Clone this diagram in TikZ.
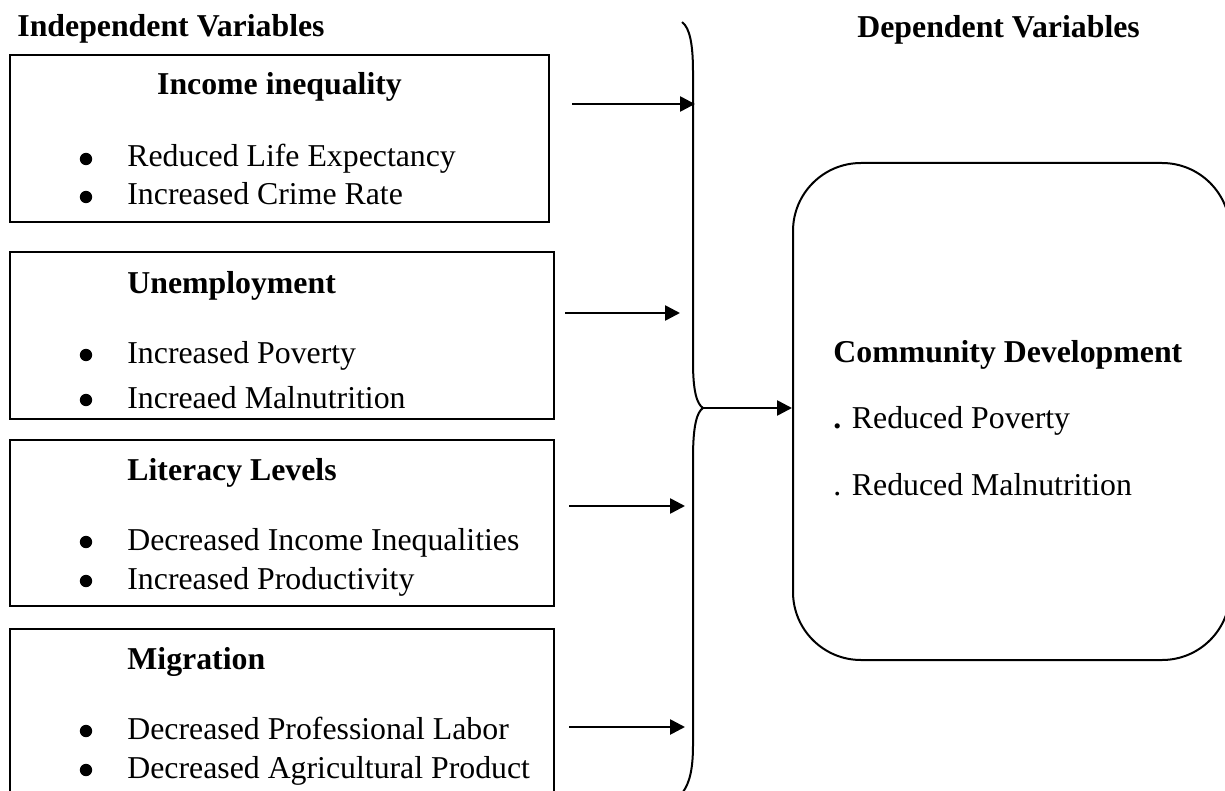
\documentclass[tikz,border=0pt]{standalone}
\usepackage{fontspec}
\setmainfont{Liberation Serif}
\usepackage{tikz}
\usetikzlibrary{arrows.meta}
\tikzset{>={Triangle[length=7.5pt,width=7.5pt]}}
\tikzstyle{varbox}=[draw,line width=1.1pt,minimum width=272pt,minimum height=83.5pt,inner sep=0]
\tikzstyle{flow}=[->,line width=1.3pt]
\tikzstyle{txt}=[inner sep=0,anchor=base west]
\tikzstyle{bul}=[circle,fill,inner sep=0,minimum size=6.2pt]

\begin{document}
\begin{tikzpicture}[x=0.5pt,y=-0.5pt]
  \tikzstyle{every node}=[font=\fontsize{15.9}{19}\selectfont]
  \useasboundingbox (0,0) rectangle (1225,791);
  \def\bx{86}
  \def\tx{127}

  % headings
  \node[txt,font=\fontsize{15.9}{19}\selectfont\bfseries] (indep) at (17,37) {Independent Variables};
  \node[txt,font=\fontsize{15.9}{19}\selectfont\bfseries] (dep) at (857,38) {Dependent Variables};

  % Income inequality
  \node[varbox,minimum width=269.5pt] (inc) at (279.5,138.5) {};
  \node[inner sep=0,anchor=base,font=\fontsize{15.9}{19}\selectfont\bfseries] (inc-h) at (279.5,95) {Income inequality};
  \foreach \y/\t [count=\i] in {167/Reduced Life Expectancy, 205/Increased Crime Rate} {
    \node[bul] (inc-b\i) at (\bx,{\y-8}) {};
    \node[txt] (inc-\i) at (\tx,\y) {\t};
  }

  % Unemployment
  \node[varbox] (unemp) at (282,335.5) {};
  \node[txt,font=\fontsize{15.9}{19}\selectfont\bfseries] (unemp-h) at (\tx,293) {Unemployment};
  \foreach \y/\t [count=\i] in {363/Increased Poverty, 408/Increaed Malnutrition} {
    \node[bul] (unemp-b\i) at (\bx,{\y-8}) {};
    \node[txt] (unemp-\i) at (\tx,\y) {\t};
  }

  % Literacy Levels
  \node[varbox,minimum height=83pt] (lit) at (282,523) {};
  \node[txt,font=\fontsize{15.9}{19}\selectfont\bfseries] (lit-h) at (\tx,480) {Literacy Levels};
  \foreach \y/\t [count=\i] in {550/Decreased Income Inequalities, 589/Increased Productivity} {
    \node[bul] (lit-b\i) at (\bx,{\y-8}) {};
    \node[txt] (lit-\i) at (\tx,\y) {\t};
  }

  % Migration
  \node[varbox,minimum height=83pt] (mig) at (282,712) {};
  \node[txt,font=\fontsize{15.9}{19}\selectfont\bfseries] (mig-h) at (\tx,669) {Migration};
  \foreach \y/\t [count=\i] in {739/Decreased Professional Labor, 778/Decreased Agricultural Product} {
    \node[bul] (mig-b\i) at (\bx,{\y-8}) {};
    \node[txt] (mig-\i) at (\tx,\y) {\t};
  }

  % arrows into the brace
  \foreach \y/\xs/\xe [count=\i] in {104/572/695, 313/565/680, 506/569/685, 727/569/685} {
    \coordinate (s\i) at (\xs,\y);
    \coordinate (e\i) at (\xe,\y);
    \draw[flow] (s\i) -- (e\i);
  }

  % brace
  \coordinate (tip) at (703,408);
  \draw[line width=1pt] (682,22) .. controls (690,28) and (693,45) .. (693,72)
    -- (693,362) .. controls (693,392) and (697,404) .. (tip)
    .. controls (697,412) and (693,425) .. (693,458)
    -- (693,745) .. controls (693,768) and (690,782) .. (683,792);

  % Community Development
  \node[draw,line width=1pt,rounded corners=34pt,minimum width=218.5pt,minimum height=248.5pt,inner sep=0] (comm) at (1011.5,411.5) {};
  \node[txt,font=\fontsize{15.9}{19}\selectfont\bfseries] (comm-h) at (833,362) {Community Development};
  \node[txt] (comm-1) at (833,428) {\textbf{.} Reduced Poverty};
  \node[txt] (comm-2) at (833,495) {. Reduced Malnutrition};
  \draw[flow] (tip) -- (tip -| comm.west);

\end{tikzpicture}
\end{document}
